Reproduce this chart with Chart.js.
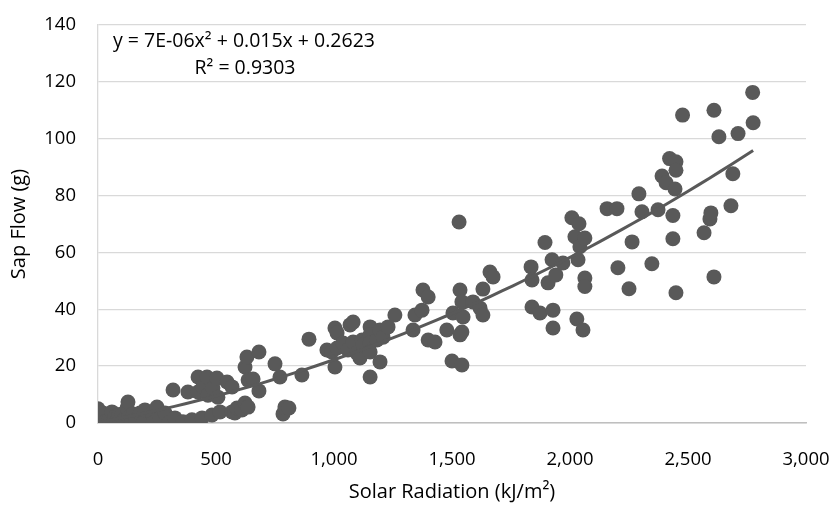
<!DOCTYPE html>
<html>
<head>
<meta charset="utf-8">
<script src="https://cdn.jsdelivr.net/npm/chart.js@4.4.1/dist/chart.umd.min.js"></script>
<style>
   html, body { margin: 0; padding: 0; background: #fff; }
   #wrap { width: 830px; height: 514px; }
</style>
</head>
<body>
<div id="wrap"><canvas id="myChart" width="830" height="514"></canvas></div>
<script>
"use strict";

// data
const solarRadiation = [
   0, 0, 8, 10, 20, 30, 45, 59, 70, 80, 90, 102, 110, 123, 127, 130, 144, 150, 160, 178,
   191, 199, 229, 233, 250, 263, 284, 300, 318, 326, 360, 381, 398, 424, 424, 441, 445, 462, 466, 483,
   487, 504, 508, 517, 547, 568, 568, 580, 589, 610, 623, 623, 631, 636, 636, 657, 682, 682, 750, 771,
   784, 792, 809, 864, 894,
   970, 991, 1004, 1004, 1013, 1013, 1038, 1059, 1068, 1081, 1081, 1097, 1110, 1119, 1123, 1153, 1153, 1153, 1153, 1153,
   1182, 1195, 1195, 1208, 1229, 1258, 1335, 1343, 1373, 1377, 1399, 1399, 1428, 1478, 1500, 1504, 1530, 1534, 1534, 1542,
   1542, 1542, 1547, 1589, 1619, 1631, 1631, 1661, 1674,
   1835, 1839, 1839, 1873, 1894, 1907, 1924, 1928, 1928, 1940, 1970, 2008, 2021, 2029, 2034, 2038, 2042, 2055, 2063, 2063,
   2063, 2157, 2199, 2203, 2250, 2263, 2292, 2305, 2347, 2373, 2390, 2407, 2422, 2436, 2436, 2445, 2449, 2449, 2449, 2477,
   2568, 2593, 2597, 2610, 2610, 2631, 2682, 2690, 2712, 2774, 2776,
];
const sapFlow = [
   5, 2.8, 0.4, 1.5, 3.5, 0.4, 1, 3.9, 2, 0.4, 3, 2.8, 1, 5.3, 7.4, 2, 0.4, 3.2, 1, 3.5,
   0, 4.6, 3.5, 0, 5.6, 1.8, 3.5, 0, 11.6, 1.8, 0.4, 10.9, 1.1, 16.2, 10.9, 1.8, 12.7, 16.2, 9.8, 2.8,
   12.3, 15.8, 9.1, 3.9, 14.4, 12.7, 3.9, 3.5, 5.3, 4.6, 7, 19.7, 23.2, 15.1, 5.6, 15.5, 25, 11.3, 20.8, 16.2,
   3.2, 5.6, 5.3, 16.9, 29.5,
   25.7, 25, 33.4, 19.7, 31.7, 26.4, 28.1, 25.7, 34.5, 35.5, 28.5, 24.6, 22.9, 29.2, 27.4, 33.8, 31, 28.1, 25, 16.2,
   29.2, 32.7, 21.5, 30.2, 33.8, 38, 32.7, 38, 39.7, 46.8, 44.3, 29.2, 28.5, 32.7, 21.8, 38.7, 70.7, 46.8, 31, 42.6,
   32, 20.4, 37.3, 42.6, 40.4, 47.1, 38, 53.1, 51.4,
   54.9, 50.3, 40.8, 38.7, 63.5, 49.3, 57.4, 39.7, 33.4, 52.1, 56.3, 72.2, 65.5, 36.6, 57.4, 70.1, 62, 32.7, 65.1, 51,
   48, 75.4, 75.4, 54.6, 47.2, 63.7, 80.6, 74.3, 56, 75, 86.9, 84.5, 93, 73, 64.8, 82.3, 91.9, 88.9, 45.8, 108.3,
   66.9, 71.8, 73.9, 110, 51.4, 100.7, 76.4, 87.7, 101.8, 116.3, 105.6,
];

const xTicks = [0, 500, 1000, 1500, 2000, 2500, 3000];
const yTicks = [0, 20, 40, 60, 80, 100, 120, 140];

// polynomial trendline, order 2 (coefficients as printed on the chart)
const trendA = 7e-6;
const trendB = 0.015;
const trendC = 0.2623;
const trendLabel = "y = 7E-06x\u00B2 + 0.015x + 0.2623";
const r2Label = "R\u00B2 = 0.9303";

const xLabel = "Solar Radiation (kJ/m\u00B2)";
const yLabel = "Sap Flow (g)";

const grey = "#595959";
const fontFamily = "'Open Sans', sans-serif";

const points = solarRadiation.map((x, i) => ({ x: x, y: sapFlow[i] }));

const xMin = Math.min(...solarRadiation);
const xMax = Math.max(...solarRadiation);
const trendPoints = [];
for (let i = 0; i <= 60; i++) {
   const x = xMin + ((xMax - xMin) * i) / 60;
   trendPoints.push({ x: x, y: trendA * x * x + trendB * x + trendC });
}

// equation text in the top left corner of the plot
const equationPlugin = {
   id: "equation",
   afterDatasetsDraw(chart) {
      const c = chart.ctx;
      c.save();
      c.fillStyle = "#000";
      c.font = "19.5px " + fontFamily;
      c.textBaseline = "middle";
      c.textAlign = "left";
      c.fillText(trendLabel, 113, 41);
      c.textAlign = "center";
      c.fillText(r2Label, 245, 68);
      c.restore();
   },
};

const ctx = document.getElementById("myChart").getContext("2d");
const myChart = new Chart(ctx, {
   type: "scatter",
   data: {
      datasets: [
         {
            label: "trend",
            data: trendPoints,
            showLine: true,
            borderColor: grey,
            borderWidth: 3,
            pointRadius: 0,
            tension: 0,
            order: 0,
         },
         {
            label: "sap flow",
            data: points,
            backgroundColor: grey,
            borderColor: grey,
            borderWidth: 0,
            pointRadius: 7.5,
            order: 1,
         },
      ],
   },
   options: {
      responsive: false,
      animation: false,
      layout: { padding: { left: 0, top: 25, right: 24, bottom: 0 } },
      plugins: { legend: { display: false }, tooltip: { enabled: false } },
      scales: {
         x: {
            type: "linear",
            min: xTicks[0],
            max: xTicks[xTicks.length - 1],
            afterBuildTicks: (scale) => {
               scale.ticks = xTicks.map((v) => ({ value: v }));
            },
            afterFit: (scale) => {
               scale.height = 91;
               scale.paddingLeft = 0;
               scale.paddingRight = 0;
            },
            grid: { display: false, drawTicks: false },
            border: { display: true, color: "#bfbfbf", width: 1.5 },
            ticks: {
               color: "#000",
               font: { family: fontFamily, size: 18.5 },
               padding: 26,
               maxRotation: 0,
               callback: (v) => v.toLocaleString("en-US"),
            },
            title: {
               display: true,
               text: xLabel,
               color: "#000",
               font: { family: fontFamily, size: 20 },
               padding: { top: 0, bottom: 10 },
            },
         },
         y: {
            min: yTicks[0],
            max: yTicks[yTicks.length - 1],
            afterBuildTicks: (scale) => {
               scale.ticks = yTicks.map((v) => ({ value: v }));
            },
            afterFit: (scale) => {
               scale.width = 98;
               scale.paddingTop = 0;
               scale.paddingBottom = 0;
            },
            grid: { color: "#d9d9d9", lineWidth: 1.3, drawTicks: false },
            border: { display: true, color: "#d9d9d9", width: 1.3 },
            ticks: {
               color: "#000",
               font: { family: fontFamily, size: 18.5 },
               padding: 22,
            },
            title: {
               display: true,
               text: yLabel,
               color: "#000",
               font: { family: fontFamily, size: 20 },
               padding: { top: 7, bottom: 0 },
            },
         },
      },
   },
   plugins: [equationPlugin],
});
</script>
</body>
</html>
